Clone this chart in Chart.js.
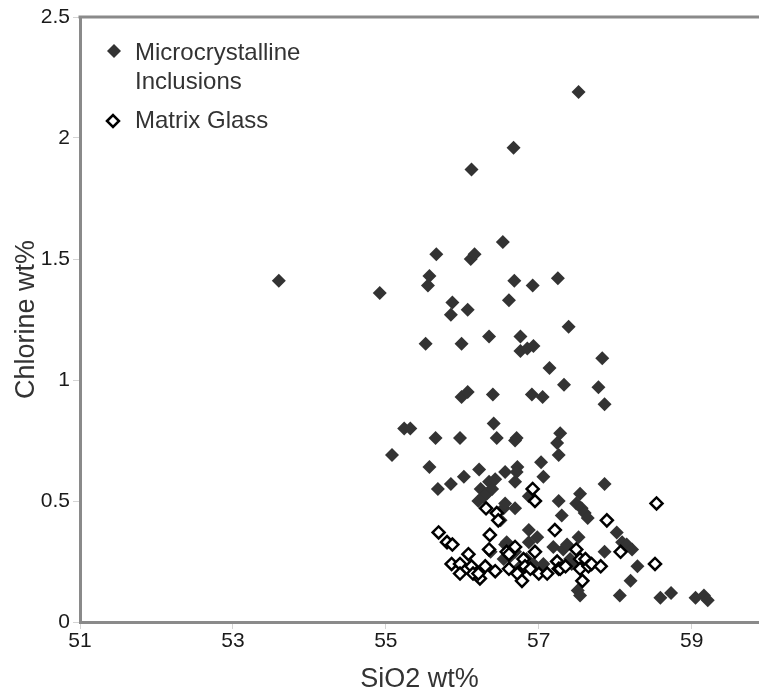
<!DOCTYPE html>
<html>
<head>
<meta charset="utf-8">
<title>Chlorine vs SiO2</title>
<script src="https://cdn.jsdelivr.net/npm/chart.js@4/dist/chart.umd.min.js"></script>
<style>
html, body { margin: 0; padding: 0; background: #fff; overflow: hidden; }
#wrap { width: 759px; height: 693px; }
</style>
</head>
<body>
<div id="wrap"><canvas id="myChart" width="759" height="693"></canvas></div>
<script>
// axis ticks
var xTicks = [51, 53, 55, 57, 59];
var yTicks = [0, 0.5, 1, 1.5, 2, 2.5];

// Microcrystalline Inclusions
var inclSiO2 = [53.60, 54.92, 55.08, 55.24, 55.32, 55.52, 55.55, 55.57, 55.57, 55.65,
    55.66, 55.68, 55.85, 55.85, 55.87, 55.97, 55.99, 55.99, 56.02, 56.07,
    56.07, 56.11, 56.12, 56.16, 56.21, 56.22, 56.24, 56.28, 56.32, 56.35,
    56.39, 56.43, 56.35, 56.37, 56.40, 56.41, 56.45, 56.50, 56.53, 56.54,
    56.56, 56.56, 56.56, 56.54, 56.58, 56.61, 56.62, 56.67, 56.68, 56.69,
    56.71, 56.69, 56.69, 56.69, 56.72, 56.71, 56.76, 56.76, 56.76, 56.85,
    56.87, 56.87, 56.87, 56.84, 56.91, 56.92, 56.93, 56.93, 56.98, 57.03,
    57.05, 57.06, 57.06, 57.14, 57.19, 57.24, 57.25, 57.26, 57.26, 57.28,
    57.30, 57.32, 57.33, 57.37, 57.39, 57.41, 57.43, 57.49, 57.51, 57.52,
    57.52, 57.54, 57.54, 57.56, 57.60, 57.64, 57.78, 57.83, 57.86, 57.86,
    57.86, 58.02, 58.06, 58.09, 58.15, 58.22, 58.20, 58.29, 58.59, 58.73,
    59.05, 59.16, 59.21];
var inclCl = [1.41, 1.36, 0.69, 0.80, 0.80, 1.15, 1.39, 1.43, 0.64, 0.76,
    1.52, 0.55, 0.57, 1.27, 1.32, 0.76, 1.15, 0.93, 0.60, 0.95,
    1.29, 1.50, 1.87, 1.52, 0.50, 0.63, 0.55, 0.52, 0.53, 0.58,
    0.55, 0.59, 1.18, 0.29, 0.94, 0.82, 0.76, 0.42, 1.57, 0.47,
    0.62, 0.49, 0.32, 0.26, 0.33, 1.33, 0.27, 1.96, 1.41, 0.75,
    0.76, 0.58, 0.47, 0.29, 0.64, 0.62, 1.18, 1.12, 0.23, 1.13,
    0.52, 0.38, 0.33, 0.26, 0.94, 1.39, 1.14, 0.24, 0.35, 0.66,
    0.93, 0.60, 0.24, 1.05, 0.31, 0.74, 1.42, 0.69, 0.50, 0.78,
    0.44, 0.30, 0.98, 0.32, 1.22, 0.26, 0.24, 0.49, 0.13, 2.19,
    0.35, 0.53, 0.11, 0.47, 0.45, 0.43, 0.97, 1.09, 0.90, 0.57,
    0.29, 0.37, 0.11, 0.33, 0.32, 0.30, 0.17, 0.23, 0.10, 0.12,
    0.10, 0.11, 0.09];

// Matrix Glass
var glassSiO2 = [55.69, 55.80, 55.87, 55.86, 55.97, 55.97, 56.08, 56.12, 56.14, 56.23,
    56.21, 56.30, 56.31, 56.35, 56.36, 56.43, 56.45, 56.47, 56.58, 56.61,
    56.61, 56.69, 56.72, 56.78, 56.80, 56.82, 56.89, 56.92, 56.95, 56.95,
    57.00, 57.11, 57.21, 57.24, 57.26, 57.28, 57.35, 57.49, 57.54, 57.54,
    57.57, 57.61, 57.65, 57.69, 57.81, 57.89, 58.07, 58.52, 58.54];
var glassCl = [0.37, 0.33, 0.32, 0.24, 0.24, 0.20, 0.28, 0.23, 0.20, 0.18,
    0.20, 0.23, 0.47, 0.30, 0.36, 0.21, 0.45, 0.42, 0.29, 0.28,
    0.22, 0.31, 0.20, 0.17, 0.26, 0.23, 0.22, 0.55, 0.50, 0.29,
    0.20, 0.20, 0.38, 0.25, 0.22, 0.22, 0.23, 0.30, 0.26, 0.22,
    0.17, 0.26, 0.23, 0.24, 0.23, 0.42, 0.29, 0.24, 0.49];

function toPoints(xs, ys){
    return xs.map(function(x, i){ return {x: x, y: ys[i]}; });
}

var FONT = '"Liberation Sans", Arial, sans-serif';

// top edge of the plot frame
var frameTop = {
    id: 'frameTop',
    afterDraw: function(chart){
        var ctx = chart.ctx, a = chart.chartArea;
        ctx.save();
        ctx.strokeStyle = '#8a8a8a';
        ctx.lineWidth = 3;
        ctx.beginPath();
        ctx.moveTo(a.left - 1.5, a.top);
        ctx.lineTo(chart.width, a.top);
        ctx.stroke();
        ctx.restore();
    }
};

// legend inside the plot, top left
var legendBox = {
    id: 'legendBox',
    afterDraw: function(chart){
        var ctx = chart.ctx, a = chart.chartArea;
        var H = Chart.helpers;
        ctx.save();
        ctx.fillStyle = '#333';
        H.drawPoint(ctx, {pointStyle: 'rectRot', radius: 7, rotation: 0, borderWidth: 0}, a.left + 34, a.top + 34);
        ctx.fillStyle = '#fff';
        ctx.strokeStyle = '#000';
        ctx.lineWidth = 2.5;
        H.drawPoint(ctx, {pointStyle: 'rectRot', radius: 6, rotation: 0, borderWidth: 2.5}, a.left + 33, a.top + 104);
        ctx.fillStyle = '#333';
        ctx.font = '24px ' + FONT;
        ctx.textBaseline = 'alphabetic';
        ctx.textAlign = 'left';
        ctx.fillText('Microcrystalline', a.left + 55, a.top + 43);
        ctx.fillText('Inclusions', a.left + 55, a.top + 72);
        ctx.fillText('Matrix Glass', a.left + 55, a.top + 111);
        ctx.restore();
    }
};

var ctx = document.getElementById('myChart').getContext('2d');
var chart = new Chart(ctx, {
    type: 'scatter',
    data: {
        datasets: [{
            label: 'Matrix Glass',
            data: toPoints(glassSiO2, glassCl),
            pointStyle: 'rectRot',
            pointRadius: 6,
            pointBackgroundColor: '#fff',
            pointBorderColor: '#000',
            pointBorderWidth: 2.5,
            order: 0
        }, {
            label: 'Microcrystalline Inclusions',
            data: toPoints(inclSiO2, inclCl),
            pointStyle: 'rectRot',
            pointRadius: 7,
            pointBackgroundColor: '#333',
            pointBorderWidth: 0,
            order: 1
        }]
    },
    options: {
        responsive: false,
        animation: false,
        layout: { autoPadding: false, padding: { top: 17, right: 0, left: 0, bottom: 0 } },
        plugins: {
            legend: { display: false },
            tooltip: { enabled: false }
        },
        scales: {
            x: {
                type: 'linear',
                min: 51,
                max: 59.88,
                afterBuildTicks: function(scale){
                    scale.ticks = xTicks.map(function(v){ return {value: v}; });
                },
                afterFit: function(scale){
                    scale.height = 71;
                    scale.paddingLeft = 0;
                    scale.paddingRight = 0;
                },
                grid: { drawOnChartArea: false, drawTicks: true, tickLength: 7, color: '#d4d4d4' },
                border: { display: true, color: '#8a8a8a', width: 3 },
                ticks: { color: '#1a1a1a', font: { family: FONT, size: 21 }, padding: 0, maxRotation: 0,
                    callback: function(v){ return String(v); } },
                title: { display: true, text: 'SiO2 wt%', color: '#333', font: { family: FONT, size: 27, lineHeight: 1 }, padding: { top: 0, bottom: 0 } }
            },
            y: {
                type: 'linear',
                min: 0,
                max: 2.5,
                afterBuildTicks: function(scale){
                    scale.ticks = yTicks.map(function(v){ return {value: v}; });
                },
                afterFit: function(scale){ scale.width = 80; },
                grid: { drawOnChartArea: false, drawTicks: true, tickLength: 7, color: '#d4d4d4' },
                border: { display: true, color: '#8a8a8a', width: 3 },
                ticks: { color: '#1a1a1a', font: { family: FONT, size: 21 }, padding: 3,
                    callback: function(v){ return String(v); } },
                title: { display: true, text: 'Chlorine wt%', color: '#333', font: { family: FONT, size: 27, lineHeight: 1 }, padding: { top: 13, bottom: 0 } }
            }
        }
    },
    plugins: [frameTop, legendBox]
});
</script>
</body>
</html>
